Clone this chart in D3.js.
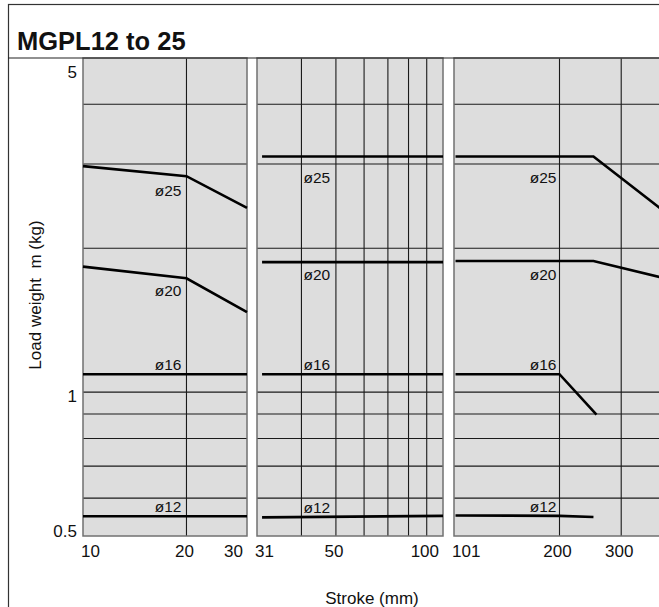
<!DOCTYPE html>
<html><head><meta charset="utf-8">
<script src="https://cdn.jsdelivr.net/npm/d3@7"></script>
<style>
body{margin:0;background:#fff}
svg{display:block;font-family:"Liberation Sans",Arial,sans-serif}
</style>
</head><body>
<script>
// ---------- data ----------
const title = "MGPL12 to 25";
const yTitle = "Load weight  m (kg)";
const xTitle = "Stroke (mm)";
const yDomain = [0.5, 5];
const yTicks = [0.5, 1, 5];
const yTickLabels = ["0.5", "1", "5"];
const yGrid = [0.6, 0.7, 0.8, 0.9, 1, 2, 3, 4];

const leftDomain = [10, 30];
const midDomain = [30, 100];
const rightDomain = [100, 400];

const leftTicks = [10, 20, 30];
const leftTickLabels = ["10", "20", "30"];
const midTicks = [31, 50, 100];
const midTickLabels = ["31", "50", "100"];
const rightTicks = [101, 200, 300];
const rightTickLabels = ["101", "200", "300"];

const leftGrid = [20];
const midGrid = [40, 50, 60, 70, 80, 90];
const rightGrid = [200, 300];

const bores = ["ø25", "ø20", "ø16", "ø12"];

// [stroke, load]
const left25 = [[10, 2.97], [20, 2.83], [30, 2.43]];
const left20 = [[10, 1.83], [20, 1.73], [30, 1.47]];
const left16 = [[10, 1.09], [30, 1.09]];
const left12 = [[10, 0.55], [30, 0.55]];

const mid25 = [[31, 3.11], [100, 3.11]];
const mid20 = [[31, 1.87], [100, 1.87]];
const mid16 = [[31, 1.09], [100, 1.09]];
const mid12 = [[31, 0.547], [100, 0.551]];

const right25 = [[101, 3.11], [250, 3.11], [400, 2.38]];
const right20 = [[101, 1.88], [250, 1.88], [400, 1.73]];
const right16 = [[101, 1.09], [200, 1.09], [255, 0.897]];
const right12 = [[101, 0.552], [200, 0.551], [250, 0.548]];

const labelStroke = [20, 40, 200];

// ---------- layout ----------
const W = 659, H = 607;
const plotTop = 58, plotBottom = 536;
const panelRanges = [[83, 247], [257, 443], [454, 665]];
const labelAnchor = ["end", "start", "end"];
const labelDx = [-5, 2, -3];
const labelDy = {"ø25": [20, 26, 26.5], "ø20": [18, 18, 18.5], "ø16": [-4.5, -4.5, -4.5], "ø12": [-4, -4, -3.7]};

const panels = [
  {domain: leftDomain, ticks: leftTicks, tickLabels: leftTickLabels, grid: leftGrid, series: [left25, left20, left16, left12]},
  {domain: midDomain, ticks: midTicks, tickLabels: midTickLabels, grid: midGrid, series: [mid25, mid20, mid16, mid12]},
  {domain: rightDomain, ticks: rightTicks, tickLabels: rightTickLabels, grid: rightGrid, series: [right25, right20, right16, right12]}
];

const svg = d3.select("body").append("svg").attr("width", W).attr("height", H);
const y = d3.scaleLog().domain(yDomain).range([plotBottom, plotTop]);

// outer frame
svg.append("rect").attr("x", 8.5).attr("y", 4.5).attr("width", W + 20).attr("height", H + 20)
  .attr("fill", "none").attr("stroke", "#333").attr("stroke-width", 1.2);

// title
svg.append("text").attr("x", 17).attr("y", 50).attr("font-size", 25.5).attr("font-weight", "bold")
  .attr("fill", "#111").text(title);

function valueAt(series, xv) {
  for (let i = 0; i < series.length - 1; i++) {
    const [x0, y0] = series[i], [x1, y1] = series[i + 1];
    if (xv >= x0 && xv <= x1) {
      const t = Math.log(xv / x0) / Math.log(x1 / x0);
      return Math.exp(Math.log(y0) + t * Math.log(y1 / y0));
    }
  }
  return series[series.length - 1][1];
}

panels.forEach((p, pi) => {
  const [r0, r1] = panelRanges[pi];
  const x = d3.scaleLog().domain(p.domain).range([r0, r1]);
  const g = svg.append("g");
  g.append("rect").attr("x", r0).attr("y", plotTop).attr("width", r1 - r0).attr("height", plotBottom - plotTop)
    .attr("fill", "#dddddd");
  g.selectAll(".hg").data(yGrid).join("line")
    .attr("x1", r0).attr("x2", r1).attr("y1", d => y(d)).attr("y2", d => y(d))
    .attr("stroke", "#1a1a1a").attr("stroke-width", 1.1);
  g.selectAll(".vg").data(p.grid).join("line")
    .attr("x1", d => x(d)).attr("x2", d => x(d)).attr("y1", plotTop).attr("y2", plotBottom)
    .attr("stroke", "#1a1a1a").attr("stroke-width", 1.1);
  g.append("rect").attr("x", r0).attr("y", plotTop).attr("width", r1 - r0).attr("height", plotBottom - plotTop)
    .attr("fill", "none").attr("stroke", "#707070").attr("stroke-width", 1.5);
  const line = d3.line().x(d => x(d[0])).y(d => y(d[1]));
  g.selectAll(".series").data(p.series).join("path")
    .attr("d", line).attr("fill", "none").attr("stroke", "#000").attr("stroke-width", 2.6)
    .attr("stroke-linejoin", "miter");
  bores.forEach((b, bi) => {
    const lx = x(labelStroke[pi]) + labelDx[pi];
    const ly = y(valueAt(p.series[bi], labelStroke[pi])) + labelDy[b][pi];
    const t = g.append("text").attr("x", lx).attr("y", ly).attr("text-anchor", labelAnchor[pi])
      .attr("font-size", 15.5).attr("fill", "#111").text(b);
    if (pi === 2 && b === "ø12") {
      const bb = t.node().getBBox();
      g.insert("rect", () => t.node()).attr("x", bb.x - 1).attr("y", ly - 13).attr("width", bb.width + 2).attr("height", 14)
        .attr("fill", "#dddddd");
    }
  });
  p.ticks.forEach((v, i) => {
    let anchor = "middle", tx = x(v) - 2;
    if (i === 0) { anchor = "start"; tx = r0 - 2; }
    else if (v >= p.domain[1]) { anchor = "end"; tx = r1 - 4; }
    svg.append("text").attr("x", tx).attr("y", 557).attr("text-anchor", anchor)
      .attr("font-size", 17).attr("fill", "#111").text(p.tickLabels[i]);
  });
});

// separator under title
svg.append("line").attr("x1", 8).attr("x2", W).attr("y1", 58).attr("y2", 58)
  .attr("stroke", "#222").attr("stroke-width", 1.2);

// y tick labels
yTicks.forEach((v, i) => {
  const ty = Math.max(plotTop + 20, Math.min(plotBottom + 1, y(v) + 10));
  svg.append("text").attr("x", 77).attr("y", ty).attr("text-anchor", "end")
    .attr("font-size", 17).attr("fill", "#111").text(yTickLabels[i]);
});

// axis titles
svg.append("text").attr("transform", "translate(41,295) rotate(-90)").attr("text-anchor", "middle")
  .attr("font-size", 17).attr("fill", "#111").style("white-space", "pre").text(yTitle);
svg.append("text").attr("x", 372).attr("y", 603.5).attr("text-anchor", "middle")
  .attr("font-size", 17).attr("fill", "#111").text(xTitle);
</script>
</body></html>
